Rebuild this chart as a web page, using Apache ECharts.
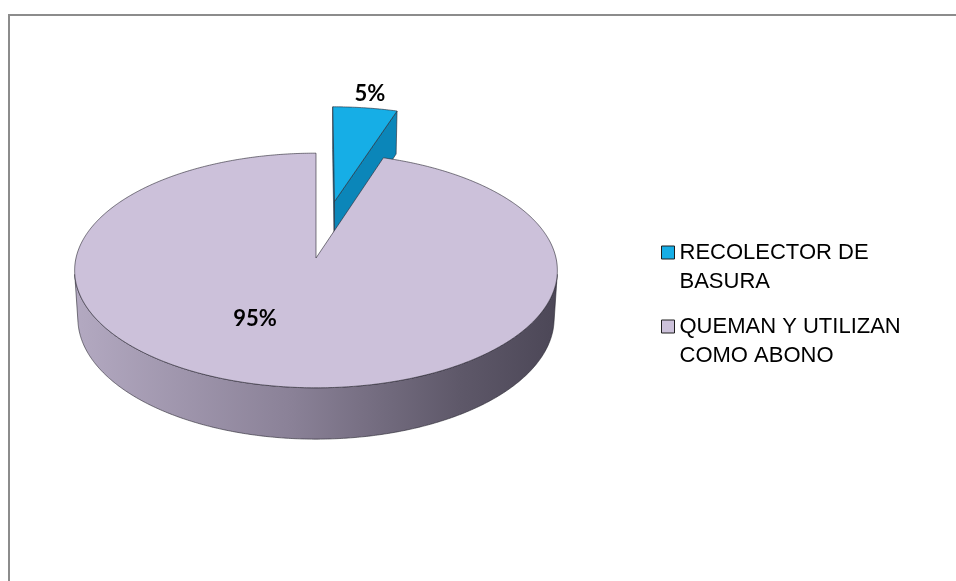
<!DOCTYPE html>
<html>
<head>
<meta charset="utf-8">
<script src="https://cdn.jsdelivr.net/npm/echarts@6/dist/echarts.min.js"></script>
<style>
  html, body { margin: 0; padding: 0; background: #ffffff; }
  #chart { width: 956px; height: 581px; }
</style>
</head>
<body>
<div id="chart"></div>
<script>
// Waste disposal: share of households (%)
const CATEGORIES = ['RECOLECTOR DE BASURA', 'QUEMAN Y UTILIZAN COMO ABONO'];
const LEGEND_LINES = [['RECOLECTOR DE', 'BASURA'], ['QUEMAN Y UTILIZAN', 'COMO ABONO']];
const VALUES = [5, 95];

// Slice colours: top face, cut face, side wall gradient
const TOP_COLORS = ['#16AEE6', '#CCC1DA'];
const CUT_COLORS = ['#0B86B9', '#8A8297'];
const SIDE_STOPS = [
  [[0, '#1793C4'], [1, '#0A5F86']],
  [[0, '#B3A9C1'], [0.45, '#8A8197'], [0.8, '#5E5869'], [1, '#4C4757']]
];

// Perspective view of the tilted disc (radius in px, eye distance and thickness in radius units)
const VIEW = { cx: 316, cy: 258, radius: 240, tilt: 28.9, eye: 8.23, thickness: 0.23 };
const EXPLODE = [0.52, 0];
const LABEL_PLACE = [{ r: 1.17, turn: 0 }, { r: 0.55, turn: 17 }];

const SIN_T = Math.sin(VIEW.tilt * Math.PI / 180);
const COS_T = Math.cos(VIEW.tilt * Math.PI / 180);
const CAM = [0, VIEW.eye * COS_T, VIEW.eye * SIN_T];

// X to the right, Y toward the viewer, Z up; all in radius units
function project(X, Y, Z) {
  const depth = Y * COS_T + Z * SIN_T;
  const f = VIEW.eye / (VIEW.eye - depth);
  return [VIEW.cx + X * f * VIEW.radius, VIEW.cy + (Y * SIN_T - Z * COS_T) * f * VIEW.radius];
}

function faces(px, py, nx, ny) {
  return (CAM[0] - px) * nx + (CAM[1] - py) * ny > 0;
}

const TOTAL = VALUES.reduce((a, b) => a + b, 0);

function renderSlice(i, api) {
  const value = api.value(0);
  let before = 0;
  for (let k = 0; k < i; k++) before += VALUES[k];
  const a0 = before / TOTAL * Math.PI * 2;
  const a1 = (before + value) / TOTAL * Math.PI * 2;
  const mid = (a0 + a1) / 2;
  const ox = EXPLODE[i] * Math.sin(mid);
  const oy = -EXPLODE[i] * Math.cos(mid);
  const low = -VIEW.thickness;
  const rim = (a, z) => project(ox + Math.sin(a), oy - Math.cos(a), z);
  const apex = z => project(ox, oy, z);

  const children = [];
  const edge = { stroke: 'rgba(40,38,48,0.75)', lineWidth: 0.8, lineJoin: 'round' };

  // radial cut faces
  [[a0, a0 - Math.PI / 2], [a1, a1 + Math.PI / 2]].forEach(([a, n]) => {
    if (a1 - a0 >= Math.PI * 2 - 1e-6) return;
    if (!faces(ox, oy, Math.sin(n), -Math.cos(n))) return;
    children.push({
      type: 'polygon',
      shape: { points: [apex(0), rim(a, 0), rim(a, low), apex(low)] },
      style: Object.assign({ fill: CUT_COLORS[i] }, edge)
    });
  });

  // outer wall, only the part turned toward the eye
  const steps = Math.max(8, Math.ceil((a1 - a0) / (Math.PI / 360)));
  let run = [];
  const runs = [];
  for (let s = 0; s <= steps; s++) {
    const a = a0 + (a1 - a0) * s / steps;
    const vis = faces(ox + Math.sin(a), oy - Math.cos(a), Math.sin(a), -Math.cos(a));
    if (vis) run.push(a);
    else if (run.length) { runs.push(run); run = []; }
  }
  if (run.length) runs.push(run);
  const sideFill = new echarts.graphic.LinearGradient(
    VIEW.cx - VIEW.radius, 0, VIEW.cx + VIEW.radius, 0,
    SIDE_STOPS[i].map(([offset, color]) => ({ offset, color })), true);
  runs.forEach(r => {
    if (r.length < 2) return;
    const pts = r.map(a => rim(a, 0)).concat(r.slice().reverse().map(a => rim(a, low)));
    children.push({
      type: 'polygon',
      shape: { points: pts },
      style: Object.assign({ fill: sideFill }, edge)
    });
  });

  // top face
  const topPts = [apex(0)];
  for (let s = 0; s <= steps; s++) topPts.push(rim(a0 + (a1 - a0) * s / steps, 0));
  children.push({
    type: 'polygon',
    shape: { points: topPts },
    style: Object.assign({ fill: TOP_COLORS[i] }, edge)
  });

  // percentage label
  const place = LABEL_PLACE[i];
  const la = mid + place.turn * Math.PI / 180;
  const lp = project(ox + place.r * Math.sin(la), oy - place.r * Math.cos(la), 0);
  children.push({
    type: 'text',
    x: lp[0], y: lp[1],
    style: {
      text: Math.round(value / TOTAL * 100) + '%',
      fill: '#000000',
      fontFamily: 'Lato, "Liberation Sans", sans-serif',
      fontWeight: 'bold',
      fontSize: 22,
      align: 'center',
      verticalAlign: 'middle'
    }
  });

  return { type: 'group', children };
}

const chart = echarts.init(document.getElementById('chart'), null, { renderer: 'canvas' });

chart.setOption({
  animation: false,
  backgroundColor: '#ffffff',
  graphic: [{
    type: 'rect',
    shape: { x: 9, y: 15, width: 1000, height: 620 },
    style: { fill: 'none', stroke: '#8c8c8c', lineWidth: 2 },
    silent: true
  }],
  legend: {
    orient: 'vertical',
    left: 661,
    top: 209,
    padding: 0,
    itemGap: -13,
    icon: 'rect',
    itemWidth: 13,
    itemHeight: 13,
    selectedMode: false,
    itemStyle: { borderColor: '#1e1e1e', borderWidth: 1 },
    data: CATEGORIES,
    // leading blank line keeps the marker level with the first text line
    formatter: name => '\n' + LEGEND_LINES[CATEGORIES.indexOf(name)].join('\n'),
    textStyle: {
      fontFamily: '"Liberation Sans", sans-serif',
      fontSize: 22,
      lineHeight: 29,
      color: '#000000'
    }
  },
  series: CATEGORIES.map((name, i) => ({
    type: 'custom',
    name,
    coordinateSystem: 'none',
    itemStyle: { color: TOP_COLORS[i] },
    data: [VALUES[i]],
    renderItem: (params, api) => renderSlice(i, api)
  }))
});
</script>
</body>
</html>
